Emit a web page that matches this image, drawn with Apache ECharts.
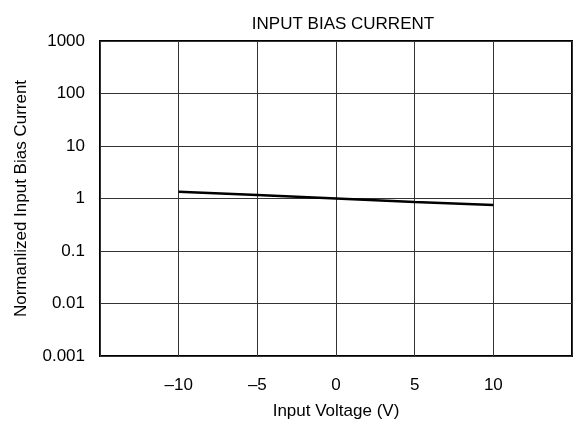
<!DOCTYPE html>
<html>
<head>
<meta charset="utf-8">
<script src="https://cdn.jsdelivr.net/npm/echarts@6/dist/echarts.min.js"></script>
<style>html,body{margin:0;padding:0;background:#fff}#c{width:577px;height:422px}</style>
</head>
<body>
<div id="c"></div>
<script>
const voltage = [-10, -5, 0, 5, 10];
const biasCurrent = [1.34, 1.16, 1.0, 0.86, 0.75];
const xTickLabels = {"-10": "\u201310", "-5": "\u20135", "0": "0", "5": "5", "10": "10"};
const yTickLabels = {"0.001": "0.001", "0.01": "0.01", "0.1": "0.1", "1": "1", "10": "10", "100": "100", "1000": "1000"};

const font = "Liberation Sans, Arial, sans-serif";
const fs = 17;
const chart = echarts.init(document.getElementById('c'));
chart.setOption({
  animation: false,
  title: {
    text: 'INPUT BIAS CURRENT',
    left: 338, top: 11, textAlign: 'center',
    textStyle: {fontFamily: font, fontSize: fs, fontWeight: 'normal', color: '#000'}
  },
  grid: {left: 100, right: 5, top: 41, bottom: 66, show: true, borderColor: '#000', borderWidth: 2,
         containLabel: false, outerBoundsMode: 'none'},
  xAxis: {
    type: 'value', min: -15, max: 15, interval: 5,
    axisLine: {show: false}, axisTick: {show: false},
    splitLine: {show: true, lineStyle: {color: '#333', width: 1}},
    axisLabel: {
      margin: 21, fontFamily: font, fontSize: fs, color: '#000',
      formatter: v => (xTickLabels[String(v)] !== undefined ? xTickLabels[String(v)] : '')
    },
    name: 'Input Voltage (V)', nameLocation: 'middle', nameGap: 47,
    nameTextStyle: {fontFamily: font, fontSize: fs, color: '#000'}
  },
  yAxis: {
    type: 'log', logBase: 10, min: 0.001, max: 1000,
    axisLine: {show: false}, axisTick: {show: false},
    splitLine: {show: true, lineStyle: {color: '#333', width: 1}},
    axisLabel: {
      margin: 15, fontFamily: font, fontSize: fs, color: '#000',
      formatter: v => {
        const k = String(parseFloat(v.toPrecision(6)));
        return yTickLabels[k] !== undefined ? yTickLabels[k] : '';
      }
    },
    name: 'Normanlized Input Bias Current', nameLocation: 'middle', nameGap: 70,
    nameTextStyle: {fontFamily: font, fontSize: fs, color: '#000'}
  },
  series: [{
    type: 'line',
    data: voltage.map((v, i) => [v, biasCurrent[i]]),
    showSymbol: false, symbol: 'none',
    lineStyle: {color: '#000', width: 2.5}
  }]
});
</script>
</body>
</html>
